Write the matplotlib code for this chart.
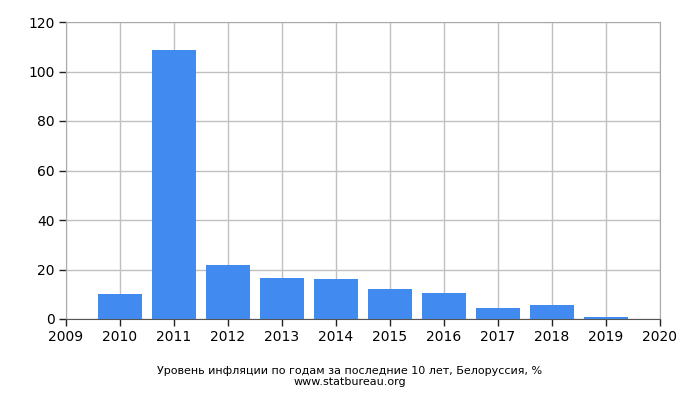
import matplotlib
matplotlib.use("Agg")
import matplotlib.pyplot as plt

years = [2010, 2011, 2012, 2013, 2014, 2015, 2016, 2017, 2018, 2019]
inflation = [9.9, 108.7, 21.8, 16.5, 16.2, 12.0, 10.6, 4.6, 5.6, 0.9]
x_ticks = list(range(2009, 2021))
y_ticks = [0, 20, 40, 60, 80, 100, 120]
caption = "Уровень инфляции по годам за последние 10 лет, Белоруссия, %"
source = "www.statbureau.org"

plt.rcParams['font.family'] = ['DejaVu Sans']
fig = plt.figure(figsize=(7, 4), dpi=100)
ax = fig.add_axes([66/700, 1-319/400, (660-66)/700, (319-22)/400])
ax.bar(years, inflation, width=0.8, color='#418bf0', zorder=2)
ax.set_xlim(2009, 2020)
ax.set_ylim(0, 120)
ax.set_xticks(x_ticks)
ax.set_yticks(y_ticks)
ax.grid(True, color='#c0c0c0', linewidth=1, zorder=0)
for s in ax.spines.values():
    s.set_color('#aaaaaa')
ax.spines['bottom'].set_color('#555555')
ax.tick_params(axis='both', length=5, width=1, color='#222222', labelsize=10, pad=3)
fig.text(0.5, 1-371/400, caption, ha='center', va='center', fontsize=8)
fig.text(0.5, 1-382/400, source, ha='center', va='center', fontsize=8)
fig.savefig('out.png', dpi=100)
